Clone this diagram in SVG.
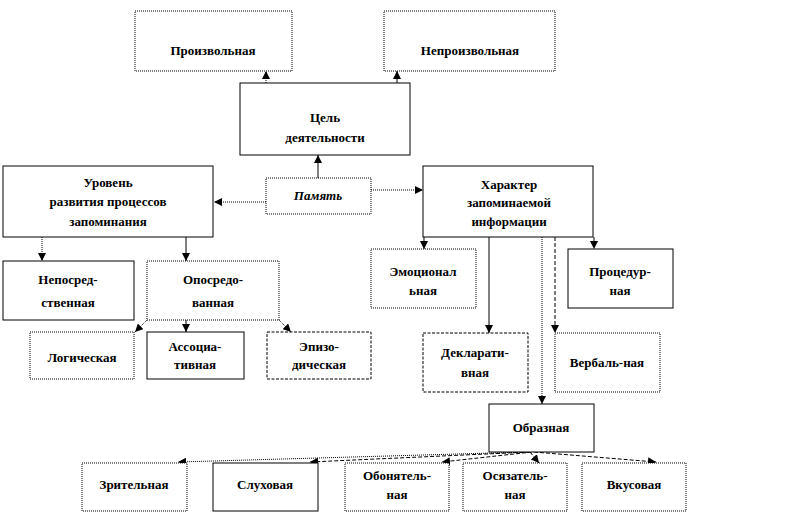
<svg xmlns="http://www.w3.org/2000/svg" width="791" height="523" viewBox="0 0 791 523">
<style>
.b{fill:#fff;stroke:#000;stroke-width:1}
.d{fill:#fff;stroke:#000;stroke-width:1;stroke-dasharray:1 1}
.ds{fill:#fff;stroke:#000;stroke-width:1;stroke-dasharray:3 1.5}
text{font-family:'Liberation Serif','DejaVu Serif','Times New Roman',serif;font-weight:bold;font-size:13px;fill:#000;text-anchor:middle}
.i{font-style:italic}
.c{fill:none;stroke:#000;stroke-width:1}
.cd{fill:none;stroke:#000;stroke-width:1;stroke-dasharray:1 1}
.cs{fill:none;stroke:#000;stroke-width:1;stroke-dasharray:4 2}
</style>
<defs>
<marker id="a" viewBox="0 0 8 8" refX="8" refY="4" markerWidth="8" markerHeight="8" markerUnits="userSpaceOnUse" orient="auto">
<path d="M0,0 L8,4 L0,8 z" fill="#000"/>
</marker>
</defs>
<rect width="791" height="523" fill="#fff"/>
<g id="connectors">
<line class="cd" x1="266" y1="83" x2="266" y2="71" marker-end="url(#a)"/>
<line class="c" x1="397" y1="83" x2="397" y2="71" marker-end="url(#a)"/>
<line class="c" x1="318" y1="178" x2="318" y2="155" marker-end="url(#a)"/>
<line class="cd" x1="266" y1="202" x2="214" y2="202" marker-end="url(#a)"/>
<line class="cd" x1="371" y1="190" x2="423" y2="190" marker-end="url(#a)"/>
<line class="cd" x1="42" y1="237" x2="42" y2="261" marker-end="url(#a)"/>
<line class="c" x1="186" y1="237" x2="186" y2="261" marker-end="url(#a)"/>
<line class="cd" x1="147" y1="320" x2="135" y2="332" marker-end="url(#a)"/>
<line class="c" x1="186" y1="320" x2="186" y2="332" marker-end="url(#a)"/>
<line class="cd" x1="279" y1="320" x2="291" y2="332" marker-end="url(#a)"/>
<line class="c" x1="424" y1="237" x2="424" y2="249" marker-end="url(#a)"/>
<line class="cs" x1="594" y1="237" x2="594" y2="249" marker-end="url(#a)"/>
<line class="c" x1="489" y1="237" x2="489" y2="333" marker-end="url(#a)"/>
<line class="cd" x1="542" y1="237" x2="542" y2="404" marker-end="url(#a)"/>
<line class="cs" x1="555" y1="237" x2="555" y2="333" marker-end="url(#a)"/>
<line class="cd" x1="528" y1="452" x2="178" y2="462" marker-end="url(#a)"/>
<line class="cs" x1="530" y1="452" x2="310" y2="462" marker-end="url(#a)"/>
<line class="cs" x1="532" y1="452" x2="442" y2="462" marker-end="url(#a)"/>
<line class="cs" x1="530" y1="452" x2="539" y2="463" marker-end="url(#a)"/>
<line class="cs" x1="534" y1="452" x2="656" y2="462" marker-end="url(#a)"/>
</g>
<g id="n-proizv"><rect class="d" x="135" y="11" width="157" height="60"/><text x="213" y="55">Произвольная</text></g>
<g id="n-neproizv"><rect class="d" x="384" y="11" width="171" height="60"/><text x="470" y="55">Непроизвольная</text></g>
<g id="n-cel"><rect class="b" x="240" y="83" width="170" height="72"/><text x="325" y="122">Цель</text><text x="325" y="142">деятельности</text></g>
<g id="n-uroven"><rect class="b" x="3" y="166" width="210" height="71"/><text x="108" y="187">Уровень</text><text x="108" y="206">развития процессов</text><text x="108" y="226">запоминания</text></g>
<g id="n-pamyat"><rect class="d" x="266" y="178" width="105" height="36"/><text class="i" x="318" y="200">Память</text></g>
<g id="n-harakter"><rect class="b" x="423" y="166" width="170" height="71"/><text x="509" y="189">Характер</text><text x="509" y="207">запоминаемой</text><text x="509" y="226">информации</text></g>
<g id="n-emoc"><rect class="d" x="371" y="249" width="105" height="59"/><text x="423" y="276">Эмоционал</text><text x="423" y="295">ьная</text></g>
<g id="n-proced"><rect class="b" x="568" y="249" width="105" height="59"/><text x="620" y="276">Процедур-</text><text x="620" y="295">ная</text></g>
<g id="n-neposr"><rect class="b" x="3" y="261" width="131" height="59"/><text x="68" y="284">Непосред-</text><text x="68" y="307">ственная</text></g>
<g id="n-oposr"><rect class="d" x="147" y="261" width="132" height="59"/><text x="213" y="284">Опосредо-</text><text x="213" y="307">ванная</text></g>
<g id="n-logich"><rect class="d" x="30" y="332" width="104" height="47"/><text x="82" y="362">Логическая</text></g>
<g id="n-assoc"><rect class="b" x="147" y="332" width="97" height="47"/><text x="195" y="351">Ассоциа-</text><text x="195" y="369">тивная</text></g>
<g id="n-epizod"><rect class="ds" x="267" y="332" width="104" height="47"/><text x="319" y="351">Эпизо-</text><text x="319" y="369">дическая</text></g>
<g id="n-deklar"><rect class="ds" x="423" y="333" width="105" height="59"/><text x="475" y="357">Декларати-</text><text x="475" y="377">вная</text></g>
<g id="n-verbal"><rect class="d" x="555" y="333" width="105" height="59"/><text x="607" y="367">Вербаль-ная</text></g>
<g id="n-obraz"><rect class="b" x="489" y="404" width="105" height="48"/><text x="541" y="432">Образная</text></g>
<g id="n-zrit"><rect class="d" x="82" y="463" width="105" height="48"/><text x="134" y="489">Зрительная</text></g>
<g id="n-sluh"><rect class="b" x="213" y="463" width="105" height="48"/><text x="265" y="489">Слуховая</text></g>
<g id="n-obon"><rect class="d" x="345" y="463" width="104" height="48"/><text x="397" y="480">Обонятель-</text><text x="397" y="499">ная</text></g>
<g id="n-osyaz"><rect class="d" x="463" y="463" width="104" height="48"/><text x="515" y="480">Осязатель-</text><text x="515" y="499">ная</text></g>
<g id="n-vkus"><rect class="d" x="582" y="463" width="104" height="48"/><text x="634" y="489">Вкусовая</text></g>
</svg>
